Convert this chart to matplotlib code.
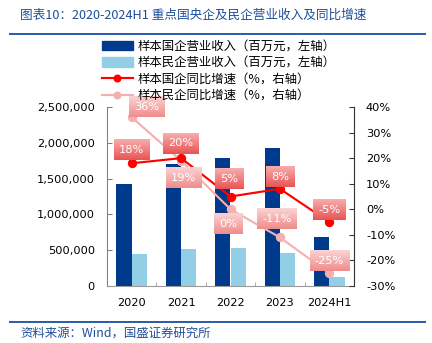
import numpy as np
import matplotlib
matplotlib.use('Agg')
import matplotlib.pyplot as plt
from matplotlib.lines import Line2D
from matplotlib.colors import LinearSegmentedColormap
from matplotlib.ticker import FuncFormatter, FixedLocator

plt.rcParams['font.family'] = ['DejaVu Sans', 'Noto Sans CJK SC']

years = ['2020', '2021', '2022', '2023', '2024H1']
soe_rev = [1420000, 1700000, 1790000, 1930000, 680000]
pe_rev = [440000, 520000, 525000, 460000, 126000]
soe_yoy = [18, 20, 5, 8, -5]
pe_yoy = [36, 19, 0, -11, -25]

# label offsets in points (x, y)
soe_off = [(0, 10), (0, 11), (-1, 13), (0, 9), (0, 9)]
pe_off = [(11, 8), (2, -13), (-2, -11), (-2, 14), (0, 9)]

navy = '#003A8C'
lblue = '#92CFE7'
red = '#FF0000'
pink = '#F4B0B0'
blue_txt = '#1F4E9A'
cjk = ['Noto Sans CJK SC', 'DejaVu Sans']

fig = plt.figure(figsize=(4.5, 343 / 96), dpi=96)
ax = fig.add_axes([107 / 432, 1 - 286 / 343, 247 / 432, 179 / 343])
ax2 = ax.twinx()

x = np.arange(len(years))
w = 0.31
ax.bar(x - w / 2, soe_rev, w, color=navy, zorder=2)
ax.bar(x + w / 2, pe_rev, w, color=lblue, zorder=2)
ax.set_xlim(-0.5, len(years) - 0.5)
ax.set_ylim(0, 2500000)
ax.set_yticks(np.arange(0, 2500001, 500000))
ax.yaxis.set_major_formatter(FuncFormatter(lambda v, p: f'{int(v):,}'))
ax.set_xticks(x)
ax.set_xticklabels(years)
ax.xaxis.set_minor_locator(FixedLocator(np.arange(0.5, len(years) - 1, 1)))
ax.tick_params(axis='x', which='major', length=0, pad=9, labelsize=8.5)
ax.tick_params(axis='x', which='minor', direction='in', length=3, color='#999999')
ax.tick_params(axis='y', direction='in', length=4, color='#808080', labelsize=8.5, pad=9)

ax2.plot(x, soe_yoy, color=red, lw=1.6, marker='o', ms=6, zorder=4)
ax2.plot(x, pe_yoy, color=pink, lw=1.6, marker='o', ms=6, zorder=3)
ax2.set_ylim(-30, 40)
ax2.set_yticks(np.arange(-30, 41, 10))
ax2.yaxis.set_major_formatter(FuncFormatter(lambda v, p: f'{int(v)}%'))
ax2.tick_params(axis='y', direction='in', length=4, color='#333333', labelsize=8.5, pad=9)

for s in ['top']:
    ax.spines[s].set_visible(False)
    ax2.spines[s].set_visible(False)
ax.spines['left'].set_color('#808080')
ax.spines['bottom'].set_color('#999999')
ax2.spines['left'].set_visible(False)
ax2.spines['bottom'].set_visible(False)
ax2.spines['right'].set_color('#333333')

anns = []
for i in range(len(years)):
    a = ax2.annotate(f'{soe_yoy[i]}%', (x[i], soe_yoy[i]), xytext=soe_off[i],
                     textcoords='offset points', ha='center', va='center',
                     color='white', fontsize=8.5, zorder=8,
                     bbox=dict(boxstyle='square,pad=0.45', fc='none', ec='none'))
    anns.append((a, 'red', 7))
    a = ax2.annotate(f'{pe_yoy[i]}%', (x[i], pe_yoy[i]), xytext=pe_off[i],
                     textcoords='offset points', ha='center', va='center',
                     color='white', fontsize=8.5, zorder=6,
                     bbox=dict(boxstyle='square,pad=0.45', fc='none', ec='none'))
    anns.append((a, 'pink', 5))

grad = {
    'red': LinearSegmentedColormap.from_list('r', ['#E95555', '#F9ACAC']),
    'pink': LinearSegmentedColormap.from_list('p', ['#F08C8C', '#FBD3D3']),
}

# gradient fill behind each label box
fig.canvas.draw()
r = fig.canvas.get_renderer()
inv = ax2.transData.inverted()
g = np.linspace(0, 1, 32).reshape(-1, 1)
for a, kind, z in anns:
    bb = a.get_bbox_patch().get_window_extent(r)
    (x0, y0), (x1, y1) = inv.transform([(bb.x0, bb.y0), (bb.x1, bb.y1)])
    ax2.imshow(g, cmap=grad[kind], extent=(x0, x1, y0, y1), origin='lower',
               aspect='auto', zorder=z, interpolation='bilinear', clip_on=False)
ax2.set_xlim(-0.5, len(years) - 0.5)
ax2.set_ylim(-30, 40)

handles = [
    plt.Rectangle((0, 0), 1, 1, color=navy),
    plt.Rectangle((0, 0), 1, 1, color=lblue),
    Line2D([], [], color=red, lw=1.6, marker='o', ms=5),
    Line2D([], [], color=pink, lw=1.6, marker='o', ms=5),
]
labels = ['样本国企营业收入（百万元，左轴）', '样本民企营业收入（百万元，左轴）',
          '样本国企同比增速（%，右轴）', '样本民企同比增速（%，右轴）']
leg = fig.legend(handles, labels, loc='upper left', bbox_to_anchor=(93 / 432, 1 - 31 / 343),
                 frameon=False, prop={'family': cjk, 'size': 9.3}, handlelength=2.5,
                 handleheight=0.8, handletextpad=0.4, labelspacing=0.28, borderpad=0.2)
leg.set_zorder(10)

fig.text(20 / 432, 1 - 15 / 343, '图表10：2020-2024H1 重点国央企及民企营业收入及同比增速',
         color=blue_txt, fontsize=9.5, va='center', ha='left', family=cjk)
fig.add_artist(Line2D([10 / 432, 425 / 432], [1 - 34 / 343] * 2, color='#2F5FAA', lw=1.5))
fig.add_artist(Line2D([10 / 432, 425 / 432], [1 - 322 / 343] * 2, color='#2F5FAA', lw=1.5))
fig.text(20 / 432, 1 - 333 / 343, '资料来源：Wind，国盛证券研究所',
         color=blue_txt, fontsize=9.3, va='center', ha='left', family=cjk)

fig.savefig('out.png', dpi=96)
